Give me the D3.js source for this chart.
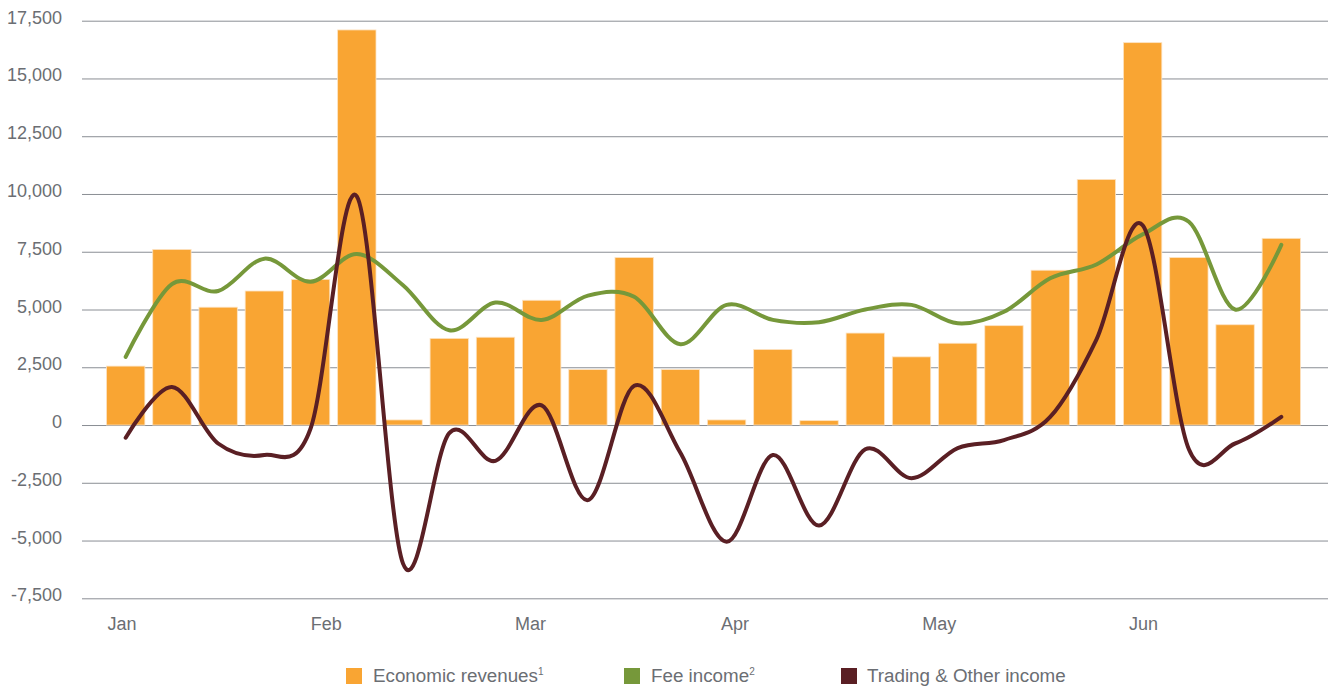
<!DOCTYPE html>
<html>
<head>
<meta charset="utf-8">
<script src="https://cdn.jsdelivr.net/npm/d3@7"></script>
<style>
  body { margin: 0; background: #fff; }
  text { font-family: "Liberation Sans", Arial, sans-serif; fill: #6b6e73; }
  .grid line { stroke: #8a8e94; stroke-width: 1; }
  .grid .domain { display: none; }
</style>
</head>
<body>
<div id="chart"></div>
<script>
const WIDTH = 1330, HEIGHT = 689;

// data (weekly points)
const economicRevenues = [2550, 7600, 5100, 5800, 6300, 17100, 220, 3750, 3800, 5400, 2400, 7250, 2400, 220,
  3270, 190, 3980, 2950, 3540, 4300, 6700, 10630, 16550, 7250, 4340, 8080];
const feeIncome = [2950, 6100, 5800, 7200, 6200, 7400, 6050, 4100, 5300, 4550, 5600, 5550, 3500, 5200,
  4550, 4450, 5000, 5200, 4400, 4900, 6350, 6950, 8250, 8800, 5000, 7800];
const tradingOther = [-550, 1650, -800, -1300, -150, 9900, -6000, -350, -1550, 850, -3250, 1700, -1200, -5050,
  -1300, -4350, -1050, -2300, -1000, -650, 350, 3700, 8650, -1050, -800, 350];
const monthLabels = ["Jan", "Feb", "Mar", "Apr", "May", "Jun"];
const monthPos = [-0.08, 4.34, 8.76, 13.18, 17.6, 22.02];   // position on the week index
const yTicks = [-7500, -5000, -2500, 0, 2500, 5000, 7500, 10000, 12500, 15000, 17500];
const seriesNames = ["Economic revenues", "Fee income", "Trading & Other income"];
const seriesSup = ["1", "2", ""];
const colors = ["#f9a533", "#76983a", "#5a1f24"];

const idx = d3.range(economicRevenues.length);

const svg = d3.select("#chart").append("svg")
  .attr("width", WIDTH).attr("height", HEIGHT);

const x = d3.scaleBand().domain(idx).range([106.5, 1300.5])
  .paddingInner(0.17).paddingOuter(0);
const xc = d3.scaleLinear().domain([0, idx.length - 1])
  .range([x(0) + x.bandwidth() / 2, x(idx.length - 1) + x.bandwidth() / 2]);
const y = d3.scaleLinear().domain([-7500, 17500]).range([598.3, 20.7]);

// gridlines
svg.append("g").attr("class", "grid")
  .attr("transform", "translate(82,0)")
  .call(d3.axisLeft(y).tickValues(yTicks).tickSize(-1246).tickFormat(""));

// y labels (plain hyphen for negatives, like the original)
svg.append("g").selectAll("text").data(yTicks).join("text")
  .attr("x", 62).attr("y", d => y(d) + 3)
  .attr("text-anchor", "end")
  .style("font-size", "18px")
  .text(d => d3.format(",")(d).replace("\u2212", "-"));

// month labels
svg.append("g").selectAll("text").data(monthLabels).join("text")
  .attr("x", (d, i) => xc(monthPos[i])).attr("y", 629.5)
  .attr("text-anchor", "middle")
  .style("font-size", "18px")
  .text(d => d);

// bars
svg.append("g").selectAll("rect").data(economicRevenues).join("rect")
  .attr("x", (d, i) => x(i))
  .attr("y", d => y(Math.max(0, d)))
  .attr("width", x.bandwidth())
  .attr("height", d => Math.abs(y(d) - y(0)))
  .attr("fill", colors[0])
  .attr("stroke", "#fde3c2").attr("stroke-width", 0.8);

// smoothed lines
const line = d3.line()
  .x((d, i) => xc(i))
  .y(d => y(d))
  .curve(d3.curveCatmullRom.alpha(0));

[feeIncome, tradingOther].forEach((s, k) => {
  svg.append("path").datum(s)
    .attr("d", line)
    .attr("fill", "none")
    .attr("stroke", colors[k + 1])
    .attr("stroke-width", 4)
    .attr("stroke-linecap", "round")
    .attr("stroke-linejoin", "round");
});

// legend
const legX = [346, 624, 841];
const leg = svg.append("g").selectAll("g").data(seriesNames).join("g")
  .attr("transform", (d, i) => `translate(${legX[i]},668)`);
leg.append("rect").attr("width", 16).attr("height", 16)
  .attr("fill", (d, i) => colors[i]);
const lt = leg.append("text").attr("x", (d, i) => i === 2 ? 26 : 27).attr("y", 14)
  .style("font-size", "18.8px");
lt.append("tspan").text(d => d);
lt.append("tspan").attr("dy", -7).style("font-size", "10px")
  .text((d, i) => seriesSup[i]);
</script>
</body>
</html>
